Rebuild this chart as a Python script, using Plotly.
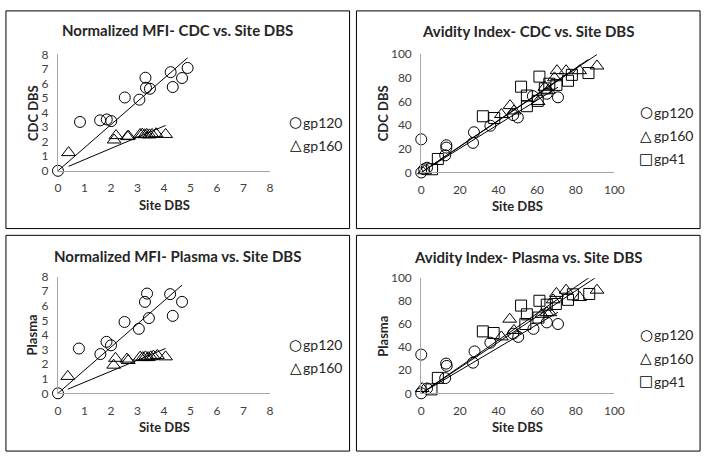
import numpy as np
import plotly.graph_objects as go

# ---------------- data ----------------
# Panel 1: Normalized MFI - CDC vs Site DBS
mfi_cdc_gp120_x = [0, 0.83, 1.59, 1.84, 2.01, 2.52, 3.07, 3.30, 3.32, 3.47, 4.25, 4.33, 4.68, 4.89]
mfi_cdc_gp120_y = [0, 3.36, 3.47, 3.53, 3.42, 5.04, 4.89, 6.40, 5.71, 5.64, 6.78, 5.76, 6.38, 7.07]
mfi_cdc_gp160_x = [0.40, 2.12, 2.19, 2.62, 2.66, 3.10, 3.18, 3.27, 3.35, 3.45, 3.55, 3.70, 4.06]
mfi_cdc_gp160_y = [1.25, 2.12, 2.42, 2.35, 2.38, 2.50, 2.52, 2.48, 2.50, 2.47, 2.50, 2.55, 2.50]

# Panel 2: Avidity Index - CDC vs Site DBS
av_cdc_gp120_x = [0, 0, 1.5, 3, 12.4, 13, 13, 26.8, 27.3, 35.8, 47.6, 50, 57.8, 65, 70.8]
av_cdc_gp120_y = [0, 28, 2.7, 4, 14.5, 23, 21, 25, 34, 39.5, 48.5, 46.5, 64.5, 66.5, 63.5]
av_cdc_gp160_x = [1.7, 41.5, 46, 48, 60.5, 64, 65.8, 69, 70.3, 75, 82, 91]
av_cdc_gp160_y = [1.4, 49, 56.5, 52, 60, 72, 69.5, 80, 86, 86, 86, 90]
av_cdc_gp41_x = [5.6, 8.6, 31.9, 37.8, 51.7, 54.7, 54.7, 60.3, 61.2, 64, 66.3, 70, 76, 78, 86.6]
av_cdc_gp41_y = [2.7, 11.4, 47.5, 46, 72.5, 65, 56, 60.5, 81, 71, 75, 74, 77.5, 82.5, 84]

# Panel 3: Normalized MFI - Plasma vs Site DBS
mfi_pl_gp120_x = [0, 0.79, 1.60, 1.83, 2.00, 2.51, 3.05, 3.28, 3.36, 3.43, 4.23, 4.33, 4.68]
mfi_pl_gp120_y = [0, 3.07, 2.69, 3.53, 3.29, 4.89, 4.42, 6.27, 6.84, 5.16, 6.80, 5.31, 6.27]
mfi_pl_gp160_x = [0.37, 2.10, 2.17, 2.60, 2.65, 3.10, 3.20, 3.30, 3.40, 3.50, 3.60, 3.75, 4.06]
mfi_pl_gp160_y = [1.16, 1.93, 2.40, 2.35, 2.25, 2.48, 2.45, 2.50, 2.45, 2.50, 2.55, 2.60, 2.50]

# Panel 4: Avidity Index - Plasma vs Site DBS
av_pl_gp120_x = [0, 0, 3, 12.4, 12.9, 13.2, 26.8, 27.6, 35.8, 47.6, 50.2, 58.1, 65, 70.8]
av_pl_gp120_y = [0, 33.6, 4.2, 13.2, 25.8, 23.8, 26.6, 36.4, 44, 51.8, 49, 56, 61.6, 60.2]
av_pl_gp160_x = [0.5, 41.5, 45.8, 48, 62.4, 65, 66.6, 68.3, 70, 75, 82, 91]
av_pl_gp160_y = [4.2, 49, 64.4, 54.6, 68.6, 70, 70, 81.2, 86.8, 89.6, 83.2, 89.6]
av_pl_gp41_x = [5.3, 8.6, 31.9, 37.5, 51.7, 53.9, 54.7, 60.7, 61.2, 65, 69.7, 76, 78.5, 87]
av_pl_gp41_y = [3.4, 13.4, 53.8, 52.4, 76.2, 60.2, 68.6, 65.8, 80.4, 77, 77.6, 81.2, 86, 86.3]

titles = ["Normalized MFI- CDC vs. Site DBS", "Avidity Index- CDC vs. Site DBS",
          "Normalized MFI- Plasma vs. Site DBS", "Avidity Index- Plasma vs. Site DBS"]
x_titles = ["Site DBS"] * 4
y_titles = ["CDC DBS", "CDC DBS", "Plasma", "Plasma"]

mfi_ticks = [0, 1, 2, 3, 4, 5, 6, 7, 8]
av_ticks = [0, 20, 40, 60, 80, 100]

# ---------------- styling ----------------
W, H = 714, 460
FONT = "Lato"
TXT = "#404040"
AXIS = "#A6A6A6"

panels = [
    dict(xd=(56, 272), yd=(168.3, 48), box=(3, 353, 3, 228), rng=8, ticks=mfi_ticks,
         series=[("gp120", "circle-open", mfi_cdc_gp120_x, mfi_cdc_gp120_y),
                 ("gp160", "triangle-up-open", mfi_cdc_gp160_x, mfi_cdc_gp160_y)],
         leg_x=298, leg_y=[118, 142], title_y=23),
    dict(xd=(426, 622.7), yd=(170, 47.7), box=(360, 710, 3, 228), rng=100, ticks=av_ticks,
         series=[("gp120", "circle-open", av_cdc_gp120_x, av_cdc_gp120_y),
                 ("gp160", "triangle-up-open", av_cdc_gp160_x, av_cdc_gp160_y),
                 ("gp41", "square-open", av_cdc_gp41_x, av_cdc_gp41_y)],
         leg_x=655, leg_y=[108, 132, 156], title_y=24),
    dict(xd=(56, 272), yd=(398.3, 277.7), box=(3, 353, 235, 458), rng=8, ticks=mfi_ticks,
         series=[("gp120", "circle-open", mfi_pl_gp120_x, mfi_pl_gp120_y),
                 ("gp160", "triangle-up-open", mfi_pl_gp160_x, mfi_pl_gp160_y)],
         leg_x=298, leg_y=[348, 372], title_y=256),
    dict(xd=(426, 622.7), yd=(398.3, 279.3), box=(360, 710, 235, 458), rng=100, ticks=av_ticks,
         series=[("gp120", "circle-open", av_pl_gp120_x, av_pl_gp120_y),
                 ("gp160", "triangle-up-open", av_pl_gp160_x, av_pl_gp160_y),
                 ("gp41", "square-open", av_pl_gp41_x, av_pl_gp41_y)],
         leg_x=655, leg_y=[338, 362, 386], title_y=257),
]

glyph = {"circle-open": "\u25CB\uFE0E", "triangle-up-open": "\u25B3\uFE0E", "square-open": "\u25A1\uFE0E"}
msize = {"circle-open": 11, "triangle-up-open": 12, "square-open": 11}

fig = go.Figure()
shapes, annots = [], []

for i, p in enumerate(panels):
    k = "" if i == 0 else str(i + 1)
    xa, ya = "x" + k, "y" + k
    for name, sym, xs, ys in p["series"]:
        xs_a, ys_a = np.array(xs, float), np.array(ys, float)
        fig.add_trace(go.Scatter(x=xs_a, y=ys_a, mode="markers", name=name,
                                 xaxis=xa, yaxis=ya, showlegend=False, cliponaxis=False,
                                 marker=dict(symbol=sym, size=msize[sym], color="black",
                                             line=dict(width=1, color="black"))))
        # linear trendline through the origin (Excel style), drawn over the data range
        slope = float((xs_a * ys_a).sum() / (xs_a ** 2).sum())
        tx = np.array([xs_a.min(), xs_a.max()])
        fig.add_trace(go.Scatter(x=tx, y=slope * tx, mode="lines", showlegend=False,
                                 xaxis=xa, yaxis=ya, hoverinfo="skip", cliponaxis=False,
                                 line=dict(color="black", width=1)))

    x0, x1 = p["xd"]
    yb, yt = p["yd"]
    axcommon = dict(showgrid=False, zeroline=False, showline=True, linecolor=AXIS,
                    linewidth=1, ticks="outside", ticklen=6, tickcolor="rgba(0,0,0,0)",
                    tickfont=dict(family=FONT, size=12, color=TXT),
                    range=[0, p["rng"]], tickvals=p["ticks"], fixedrange=True)
    fig.update_layout(**{
        "xaxis" + k: dict(axcommon, domain=[x0 / W, x1 / W], anchor=ya),
        "yaxis" + k: dict(axcommon, domain=[1 - yb / H, 1 - yt / H], anchor=xa),
    })
    bx0, bx1, by0, by1 = p["box"]
    shapes.append(dict(type="rect", xref="paper", yref="paper",
                       x0=bx0 / W, x1=bx1 / W, y0=1 - by1 / H, y1=1 - by0 / H,
                       line=dict(color="black", width=1)))
    # title
    annots.append(dict(text="<b>" + titles[i] + "</b>", xref="paper", yref="paper",
                       x=(bx0 + bx1) / 2 / W, y=1 - p["title_y"] / H, showarrow=False,
                       xanchor="center", yanchor="middle",
                       font=dict(family=FONT, size=15, color="#262626")))
    # axis titles
    annots.append(dict(text="<b>" + x_titles[i] + "</b>", xref="paper", yref="paper",
                       x=(x0 + x1) / 2 / W, y=1 - (yb + 35) / H, showarrow=False,
                       xanchor="center", yanchor="middle",
                       font=dict(family=FONT, size=13, color="#262626")))
    annots.append(dict(text="<b>" + y_titles[i] + "</b>", xref="paper", yref="paper",
                       x=(x0 - (26 if p["rng"] == 8 else 39)) / W, y=1 - (yb + yt) / 2 / H,
                       showarrow=False, textangle=-90, xanchor="center", yanchor="middle",
                       font=dict(family=FONT, size=13, color="#262626")))
    # legend entries: symbol glyph + series name
    for (name, sym, _, _), ly in zip(p["series"], p["leg_y"]):
        annots.append(dict(text=glyph[sym], xref="paper", yref="paper",
                           x=p["leg_x"] / W, y=1 - ly / H, showarrow=False,
                           xanchor="center", yanchor="middle",
                           font=dict(family="DejaVu Sans", size=15, color="black")))
        annots.append(dict(text=name, xref="paper", yref="paper",
                           x=(p["leg_x"] + 6) / W, y=1 - ly / H, showarrow=False,
                           xanchor="left", yanchor="middle",
                           font=dict(family=FONT, size=14, color="#262626")))

fig.update_layout(width=W, height=H, margin=dict(l=0, r=0, t=0, b=0),
                  paper_bgcolor="white", plot_bgcolor="white",
                  shapes=shapes, annotations=annots, showlegend=False)
fig.write_html("out.html", config={"displayModeBar": False},
               post_script="document.documentElement.style.margin='0';"
                           "document.body.style.margin='0';document.body.style.padding='0';")
